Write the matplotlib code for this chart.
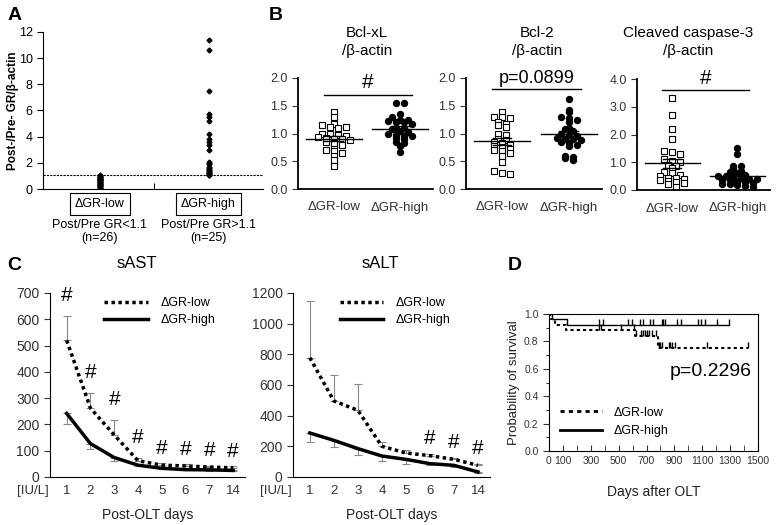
import numpy as np
import matplotlib
matplotlib.use("Agg")
import matplotlib.pyplot as plt

plt.rcParams['font.family'] = ['Liberation Sans', 'DejaVu Sans']

W, H = 779, 525

# ---- data ----
# A
a_groups = ["ΔGR-low", "ΔGR-high"]
a_sub = ["Post/Pre GR<1.1\n(n=26)", "Post/Pre GR>1.1\n(n=25)"]
a_low = [1.05, 1.0, 0.95, 0.92, 0.9, 0.85, 0.8, 0.78, 0.75, 0.7, 0.68, 0.65, 0.6,
         0.55, 0.5, 0.48, 0.45, 0.4, 0.35, 0.3, 0.28, 0.25, 0.2, 0.15, 0.1, 0.05]
a_high = [11.4, 10.6, 7.5, 5.7, 5.5, 5.2, 4.2, 3.8, 3.6, 3.4, 3.0, 2.1, 2.0, 1.9,
          1.7, 1.6, 1.5, 1.45, 1.4, 1.3, 1.25, 1.2, 1.15, 1.1, 1.05]
a_cut = 1.1

# B
b_titles = ["Bcl-xL\n/β-actin", "Bcl-2\n/β-actin", "Cleaved caspase-3\n/β-actin"]
b_cats = ["ΔGR-low", "ΔGR-high"]
bclxl_low = [1.39, 1.30, 1.17, 1.15, 1.12, 1.10, 1.12, 1.0, 1.0, 0.98, 0.95, 0.93, 0.92,
             0.9, 0.9, 0.88, 0.85, 0.82, 0.8, 0.72, 0.70, 0.68, 0.65, 0.6, 0.52, 0.42]
bclxl_high = [1.55, 1.55, 1.35, 1.3, 1.25, 1.25, 1.22, 1.2, 1.2, 1.18, 1.1, 1.1, 1.08,
              1.05, 1.02, 1.0, 0.98, 0.95, 0.95, 0.92, 0.9, 0.85, 0.82, 0.78, 0.67]
bcl2_low = [1.38, 1.3, 1.3, 1.28, 1.2, 1.18, 1.15, 1.12, 1.0, 0.98, 0.9, 0.88, 0.85,
            0.82, 0.8, 0.78, 0.75, 0.72, 0.7, 0.68, 0.65, 0.6, 0.48, 0.32, 0.28, 0.27]
bcl2_high = [1.62, 1.42, 1.38, 1.3, 1.28, 1.25, 1.2, 1.1, 1.08, 1.05, 1.0, 0.98, 0.95,
             0.92, 0.9, 0.9, 0.88, 0.85, 0.82, 0.8, 0.78, 0.6, 0.58, 0.55, 0.52]
casp_low = [3.3, 2.7, 2.2, 1.82, 1.4, 1.38, 1.3, 1.12, 1.05, 1.0, 0.9, 0.85, 0.8,
            0.65, 0.6, 0.55, 0.5, 0.45, 0.42, 0.4, 0.35, 0.32, 0.3, 0.25, 0.2, 0.1]
casp_high = [1.5, 1.3, 0.88, 0.85, 0.8, 0.7, 0.65, 0.6, 0.55, 0.5, 0.5, 0.45, 0.42,
             0.4, 0.38, 0.35, 0.35, 0.3, 0.3, 0.25, 0.22, 0.2, 0.18, 0.15, 0.12]
b_sig = ["#", "p=0.0899", "#"]

# C
days = ["1", "2", "3", "4", "5", "6", "7", "14"]
ast_low = [520, 262, 160, 62, 45, 42, 38, 35]
ast_low_err = [93, 58, 58, 12, 8, 6, 5, 5]
ast_high = [242, 127, 74, 45, 33, 28, 27, 25]
ast_high_err = [41, 22, 12, 5, 4, 3, 3, 3]
ast_sig = [True] * 8
alt_low = [778, 496, 435, 200, 157, 139, 115, 76]
alt_low_err = [370, 167, 174, 28, 17, 13, 9, 11]
alt_high = [287, 239, 185, 137, 115, 87, 76, 33]
alt_high_err = [59, 43, 44, 33, 28, 10, 10, 5]
alt_sig = [False, False, False, False, False, True, True, True]

# D
low_t = [0, 10, 40, 125, 620, 780, 1430]
low_s = [1.0, 0.962, 0.923, 0.885, 0.838, 0.754, 0.754]
low_cens = [361, 370, 515, 611, 625, 658, 672, 688, 705, 719, 736, 767,
            791, 796, 808, 863, 872, 884, 903, 1135, 1430]
high_t = [0, 22, 130, 1290]
high_s = [1.0, 0.96, 0.92, 0.92]
high_cens = [361, 390, 569, 598, 653, 676, 724, 743, 808, 819, 831, 920, 944,
             1068, 1092, 1118, 1207, 1290]


fig = plt.figure(figsize=(W / 100, H / 100), dpi=100)


def ax_px(x0, y0, x1, y1):
    return fig.add_axes([x0 / W, 1 - y1 / H, (x1 - x0) / W, (y1 - y0) / H])


def ftext(px, py, s, **kw):
    fig.text(px / W, 1 - py / H, s, **kw)


def swarm(vals, step_y, step_x):
    # simple beeswarm: spread points that fall into the same value bin
    vals = np.asarray(vals)
    xs = np.zeros(len(vals))
    bins = np.round(vals / step_y)
    for b in np.unique(bins):
        idx = np.where(bins == b)[0]
        n = len(idx)
        xs[idx] = (np.arange(n) - (n - 1) / 2) * step_x
    return xs


def clean(ax):
    ax.spines['top'].set_visible(False)
    ax.spines['right'].set_visible(False)


# ---- panel A ----
axA = ax_px(43, 32, 263, 189)
clean(axA)
axA.plot(np.zeros(len(a_low)), a_low, 'kD', ms=2.5)
axA.plot(np.ones(len(a_high)), a_high, 'kD', ms=2.5)
axA.axhline(a_cut, color='k', ls=(0, (2, 1)), lw=0.8)
axA.set_xlim(-0.52, 1.5)
axA.set_ylim(0, 12)
axA.set_yticks(range(0, 13, 2))
axA.set_xticks([0.5])
axA.set_xticklabels([])
axA.tick_params(axis='x', direction='in', length=4)
axA.tick_params(axis='y', labelsize=9, length=4)
axA.set_ylabel("Post-/Pre- GR/β-actin", fontsize=8.5, fontweight='bold', labelpad=0)
for i, g in enumerate(a_groups):
    axA.annotate(g, xy=(i, 0), xycoords=('data', 'axes fraction'), xytext=(0, -10.5),
                 textcoords='offset points', ha='center', va='center', fontsize=9,
                 bbox=dict(boxstyle='square,pad=0.4', fc='white', ec='k', lw=0.8))
    axA.annotate(a_sub[i], xy=(i, 0), xycoords=('data', 'axes fraction'), xytext=(0, -30.5),
                 textcoords='offset points', ha='center', va='center', fontsize=9,
                 linespacing=1.05)
ftext(15, 15, "A", fontsize=14, fontweight='bold', ha='center', va='center')

# ---- panel B ----
b_data = [(bclxl_low, bclxl_high), (bcl2_low, bcl2_high), (casp_low, casp_high)]
b_boxes = [(298, 78, 433, 189), (466, 78, 602, 189), (637, 79, 770, 190)]
b_tx = [367, 537, 688]
b_ymax = [2.0, 2.0, 4.0]
b_sigy = [1.70, 1.80, 3.6]
for k in range(3):
    ax = ax_px(*b_boxes[k])
    clean(ax)
    lo, hi = b_data[k]
    ymax = b_ymax[k]
    sy = 0.075 * ymax / 2
    ax.plot(swarm(lo, sy, 0.12), lo, 's', mfc='white', mec='k', mew=0.8, ms=4.3,
            ls='none')
    ax.plot(1 + swarm(hi, sy, 0.12), hi, 'o', color='k', ms=4.3, ls='none')
    for i, v in enumerate((lo, hi)):
        m = np.mean(v)
        se = np.std(v, ddof=1) / np.sqrt(len(v))
        ax.plot([i - 0.42, i + 0.42], [m, m], color='k', lw=1)
        ax.plot([i - 0.14, i + 0.14], [m + se, m + se], color='k', lw=1)
        ax.plot([i - 0.14, i + 0.14], [m - se, m - se], color='k', lw=1)
    ax.plot([-0.15, 1.18], [b_sigy[k]] * 2, color='k', lw=1)
    fs = 15 if b_sig[k] == "#" else 13
    ax.text(0.52, b_sigy[k] + 0.02 * ymax, b_sig[k], ha='center', va='bottom',
            fontsize=fs)
    ax.set_xlim(-0.54, 1.5)
    ax.set_ylim(0, ymax)
    if ymax == 2.0:
        ax.set_yticks(np.arange(0, 2.01, 0.5))
    else:
        ax.set_yticks(np.arange(0, 4.01, 1.0))
    ax.set_yticklabels(["%.1f" % t for t in ax.get_yticks()])
    ax.set_xticks([0, 1])
    ax.set_xticklabels(b_cats)
    ax.tick_params(axis='x', length=0, labelsize=9.5, pad=9, colors='#333333')
    ax.tick_params(axis='y', labelsize=9, length=4, colors='#333333')
    for s in ax.spines.values():
        s.set_linewidth(1.3)
    ftext(b_tx[k], 42, b_titles[k], ha='center', va='center', fontsize=11,
          linespacing=1.4)
ftext(276, 16, "B", fontsize=14, fontweight='bold', ha='center', va='center')

# ---- panel C ----
c_sets = [("sAST", (50, 293, 245, 477), 700, 100, ast_low, ast_low_err, ast_high,
           ast_high_err, ast_sig, (0.22, 1.04), 137),
          ("sALT", (293, 293, 490, 477), 1200, 200, alt_low, alt_low_err, alt_high,
           alt_high_err, alt_sig, (0.18, 1.04), 380)]
for (title, box, ymax, ystep, lo, lo_e, hi, hi_e, sig, lpos, tx) in c_sets:
    ax = ax_px(*box)
    clean(ax)
    x = np.arange(len(days))
    ax.errorbar(x, lo, yerr=[np.zeros(len(lo)), lo_e], fmt='none', ecolor='#888888',
                elinewidth=0.8, capsize=3, capthick=0.8)
    ax.errorbar(x, hi, yerr=[hi_e, np.zeros(len(hi))], fmt='none', ecolor='#888888',
                elinewidth=0.8, capsize=3, capthick=0.8)
    ax.plot(x, lo, color='k', ls=(0, (1, 1)), lw=2.5, label="ΔGR-low")
    ax.plot(x, hi, color='k', ls='-', lw=2.5, label="ΔGR-high")
    for i in range(len(days)):
        if sig[i]:
            top = lo[i] + lo_e[i]
            yv = top + 0.06 * ymax if i < 4 else max(top, 40) + 0.03 * ymax
            ax.text(i, yv, "#", ha='center', va='bottom', fontsize=15)
    ax.set_xlim(-0.7, 7.5)
    ax.set_ylim(0, ymax)
    ax.set_yticks(np.arange(0, ymax + 1, ystep))
    ax.set_xticks(x)
    ax.set_xticklabels(days)
    ax.tick_params(axis='x', length=0, labelsize=9.5, pad=6, colors='#333333')
    ax.tick_params(axis='y', labelsize=10, length=4, colors='#333333')
    ax.set_xlabel("Post-OLT days", fontsize=10, labelpad=8, color='#222222')
    ax.legend(loc='upper left', bbox_to_anchor=lpos, frameon=False, fontsize=9,
              handlelength=3.5, labelspacing=0.4, handletextpad=1.0)
    ftext(box[0] - 17, 491, "[IU/L]", ha='center', va='center', fontsize=9.5,
          color='#333333')
    ftext(tx, 264, title, ha='center', va='center', fontsize=12)
ftext(14, 266, "C", fontsize=14, fontweight='bold', ha='center', va='center')

# ---- panel D ----
axD = ax_px(549, 314, 758, 451)


def cens_level(t_arr, s_arr, t):
    return [s_arr[np.searchsorted(t_arr, v, side='right') - 1] for v in t]


axD.step(low_t, low_s, where='post', color='k', ls=(0, (1.5, 1.5)), lw=1.5,
         label="ΔGR-low")
axD.step(high_t, high_s, where='post', color='k', ls='-', lw=1.0, label="ΔGR-high")
axD.plot(low_cens, cens_level(low_t, low_s, low_cens), ls='none', marker=2, ms=4,
         color='k', mew=1)
axD.plot(high_cens, cens_level(high_t, high_s, high_cens), ls='none', marker=2, ms=4,
         color='k', mew=1)
axD.set_xlim(0, 1500)
axD.set_ylim(0, 1.0)
axD.set_xticks([0, 100, 300, 500, 700, 900, 1100, 1300, 1500])
axD.set_xticks(np.arange(0, 1501, 100), minor=True)
axD.set_yticks(np.arange(0, 1.01, 0.2))
axD.set_yticks(np.arange(0, 1.01, 0.1), minor=True)
axD.set_yticklabels(["%.1f" % t for t in np.arange(0, 1.01, 0.2)])
axD.tick_params(axis='x', which='both', direction='in', length=4, labelsize=7.5,
                colors='#333333')
axD.tick_params(axis='y', which='major', length=4, labelsize=7.5, colors='#333333')
axD.tick_params(axis='y', which='minor', length=2)
axD.set_xlabel("Days after OLT", fontsize=10, labelpad=14, color='#222222')
axD.set_ylabel("Probability of survival", fontsize=9.5, color='#222222', labelpad=3)
axD.text(0.97, 0.58, "p=0.2296", transform=axD.transAxes, ha='right', va='center',
         fontsize=14)
leg = axD.legend(loc='lower left', bbox_to_anchor=(0.0, 0.02), frameon=False,
                 fontsize=9, handlelength=3.3, labelspacing=0.5, handletextpad=1.0)
for ln in leg.get_lines():
    ln.set_linewidth(2.0)
ftext(515, 266, "D", fontsize=14, fontweight='bold', ha='center', va='center')

fig.savefig("out.png", dpi=100)
